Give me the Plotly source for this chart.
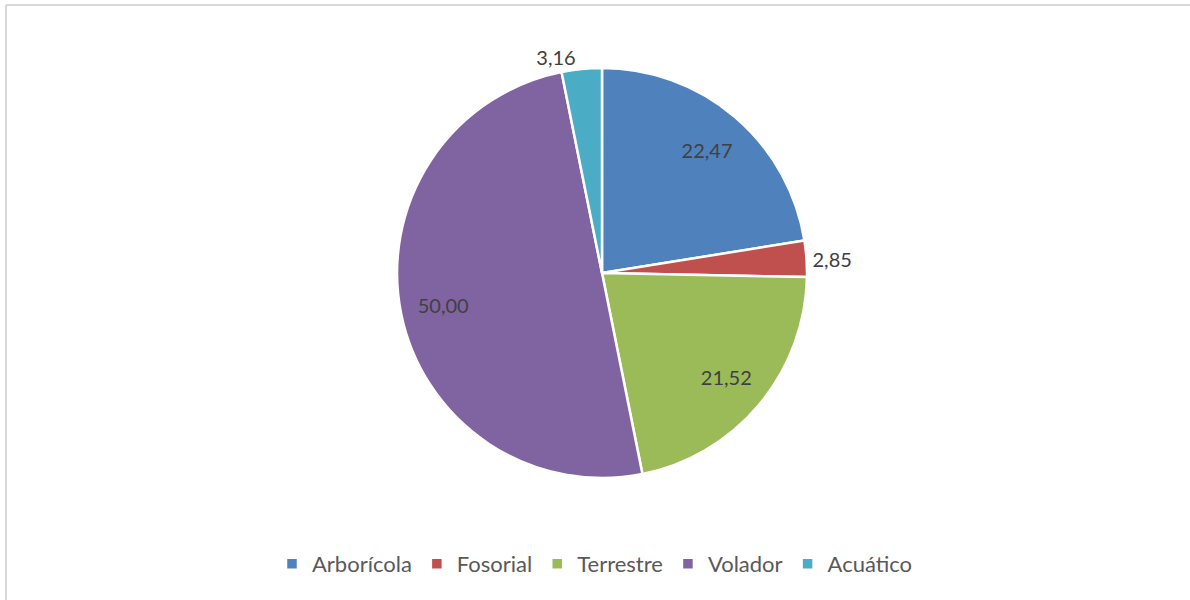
import plotly.graph_objects as go

categories = ["Arborícola", "Fosorial", "Terrestre", "Volador", "Acuático"]
values = [22.47, 2.85, 21.52, 50.00, 3.16]
colors = ["#4F81BD", "#C0504D", "#9BBB59", "#8064A2", "#4BACC6"]
labels_text = [f"{v:.2f}".replace(".", ",") for v in values]
outside = [False, True, False, False, True]

W, H = 1190, 600
cx, cy, r = 602, 273, 205
domain = dict(x=[(cx - r) / W, (cx + r) / W], y=[1 - (cy + r) / H, 1 - (cy - r) / H])
font = dict(family="Lato, Open Sans, sans-serif", size=20, color="#404040")

# Main pie: slices + outside labels for the small slices
fig = go.Figure(go.Pie(
    labels=categories,
    values=values,
    text=[t if o else "" for t, o in zip(labels_text, outside)],
    textinfo="text",
    textposition="outside",
    sort=False,
    direction="clockwise",
    rotation=0,
    marker=dict(colors=colors, line=dict(color="white", width=2.5)),
    textfont=font,
    hoverinfo="label+value",
    domain=domain,
))

# Transparent ring overlay to place the inside labels further out (like Excel)
fig.add_trace(go.Pie(
    labels=categories,
    values=values,
    text=["" if o else t for t, o in zip(labels_text, outside)],
    textinfo="text",
    textposition="inside",
    insidetextorientation="horizontal",
    sort=False,
    direction="clockwise",
    rotation=0,
    hole=0.58,
    marker=dict(colors=["rgba(0,0,0,0)"] * len(values), line=dict(width=0)),
    textfont=font,
    hoverinfo="skip",
    showlegend=False,
    domain=domain,
))

fig.update_layout(
    width=W, height=H,
    margin=dict(l=0, r=0, t=0, b=0),
    paper_bgcolor="white",
    plot_bgcolor="white",
    showlegend=True,
    legend=dict(
        orientation="h", x=0.5, xanchor="center", y=1 - 564 / H, yanchor="middle",
        font=dict(family="Lato, Open Sans, sans-serif", size=22, color="#595959"),
        itemwidth=30,
    ),
    shapes=[
        dict(type="line", xref="paper", yref="paper", x0=6 / W, x1=1.01, y0=1 - 5 / H, y1=1 - 5 / H,
             line=dict(color="#D9D9D9", width=2)),
        dict(type="line", xref="paper", yref="paper", x0=6 / W, x1=6 / W, y0=1 - 5 / H, y1=-0.01,
             line=dict(color="#D9D9D9", width=2)),
    ],
)

fig.write_html("out.html", config={"displayModeBar": False},
               post_script="document.body.style.margin='0';")
